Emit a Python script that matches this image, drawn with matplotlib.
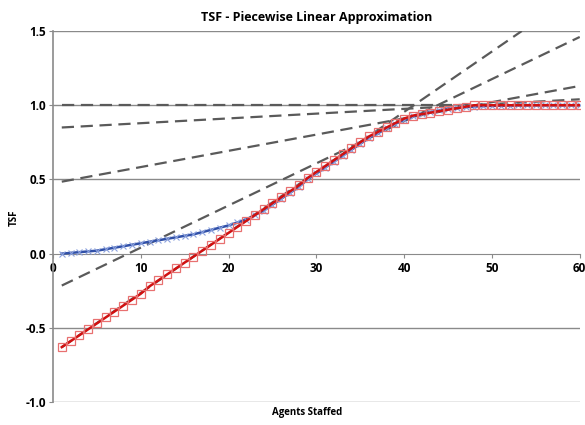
import matplotlib
matplotlib.use("Agg")
import matplotlib.pyplot as plt

# ---- data ----
agents = list(range(1, 61))

tsf_actual = [0.00, 0.005, 0.01, 0.015, 0.02, 0.03, 0.04, 0.05, 0.06, 0.07,
              0.08, 0.09, 0.10, 0.11, 0.12, 0.13, 0.145, 0.16, 0.175, 0.19,
              0.21, 0.23, 0.26, 0.29, 0.33, 0.37, 0.41, 0.45, 0.50, 0.54,
              0.58, 0.62, 0.66, 0.70, 0.74, 0.78, 0.81, 0.845, 0.875, 0.90,
              0.925, 0.94, 0.955, 0.965, 0.975, 0.982, 0.987, 0.991, 0.994, 0.996,
              0.997, 0.998, 0.999, 0.999, 1.0, 1.0, 1.0, 1.0, 1.0, 1.0]

tsf_approx = [-0.63, -0.59, -0.55, -0.51, -0.47, -0.43, -0.39, -0.35, -0.31, -0.27,
              -0.22, -0.18, -0.14, -0.10, -0.06, -0.02, 0.02, 0.06, 0.10, 0.14,
              0.18, 0.22, 0.26, 0.30, 0.34, 0.38, 0.42, 0.46, 0.51, 0.55,
              0.59, 0.63, 0.67, 0.71, 0.75, 0.79, 0.82, 0.85, 0.88, 0.91,
              0.93, 0.94, 0.95, 0.96, 0.97, 0.98, 0.99, 1.0, 1.0, 1.0,
              1.0, 1.0, 1.0, 1.0, 1.0, 1.0, 1.0, 1.0, 1.0, 1.0]

# tangent segments: (x0, y0) -> (x1, y1)
tangent_x0 = [1, 1, 1, 1, 1]
tangent_y0 = [1.0, 0.85, 0.485, -0.215, -0.63]
tangent_x1 = [60, 60, 60, 60, 53.4]
tangent_y1 = [1.0, 1.04, 1.13, 1.46, 1.5]

x_ticks = [0, 10, 20, 30, 40, 50, 60]
y_ticks = [-1.0, -0.5, 0.0, 0.5, 1.0, 1.5]

plt.rcParams["font.family"] = ["Open Sans", "DejaVu Sans"]

fig = plt.figure(figsize=(5.85, 4.25), dpi=100)
ax = fig.add_axes([0.0906, 0.054, 0.9004, 0.873])

for yv in y_ticks:
    if yv == 0.0:
        continue
    ax.axhline(yv, color="#8a8a8a", lw=1.0, zorder=1)

for xa, ya, xb, yb in zip(tangent_x0, tangent_y0, tangent_x1, tangent_y1):
    ax.plot([xa, xb], [ya, yb], color="#5a5a5a", lw=1.6, ls=(0, (5.5, 3)), zorder=2)

ax.plot(agents, tsf_actual, color="#3050a8", lw=1.8, marker="x", ms=4,
        mec="#8aa0dd", mew=0.8, zorder=3)
ax.plot(agents, tsf_approx, color="#d01010", lw=1.8, marker="s", ms=5.5,
        mfc="none", mec="#e87070", mew=0.9, zorder=4)

ax.set_xlim(0, 60)
ax.set_ylim(-1.0, 1.5)
ax.set_xticks(x_ticks)
ax.set_yticks(y_ticks)
ax.set_yticklabels([f"{v:.1f}" for v in y_ticks])

ax.spines["top"].set_visible(False)
ax.spines["right"].set_visible(False)
ax.spines["bottom"].set_position(("data", 0))
ax.spines["bottom"].set_color("#8a8a8a")
ax.spines["left"].set_color("#8a8a8a")
ax.spines["left"].set_linewidth(1.2)
ax.tick_params(axis="x", length=3, color="#8a8a8a", labelsize=8.5, pad=3)
ax.tick_params(axis="y", length=3, color="#8a8a8a", labelsize=8.5, pad=2)
for lab in ax.get_xticklabels() + ax.get_yticklabels():
    lab.set_fontweight("bold")

ax.set_title("TSF - Piecewise Linear Approximation", fontsize=9,
             fontweight="bold", pad=7)
fig.text(0.525, 0.03, "Agents Staffed", ha="center", va="center",
         fontsize=7, fontweight="bold")
fig.text(0.025, 0.487, "TSF", ha="center", va="center", rotation=90,
         fontsize=7, fontweight="bold")

fig.savefig("out.png", dpi=100)
